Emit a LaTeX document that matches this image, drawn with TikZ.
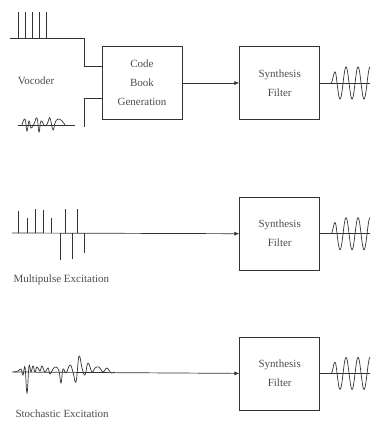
\documentclass[tikz,border=0pt]{standalone}
\usepackage{fontspec}
\setmainfont{Liberation Serif}
\usetikzlibrary{positioning, arrows.meta}

\begin{document}
\begin{tikzpicture}[x=1pt, y=-1pt, color=black!80,
        node distance=57pt and 57pt,
        box/.style={draw, rectangle, minimum width=80pt, minimum height=73pt, align=center, line width=0.7pt, text=black!70, font=\fontsize{11}{19}\selectfont},
        caption/.style={text=black!70, font=\fontsize{11}{13}\selectfont},
        signal/.style={line width=0.7pt},
        arrow/.style={-{Latex[length=5pt, width=4pt]}, line width=0.7pt}
    ]
    \useasboundingbox (0,0) rectangle (370,423);

    % --- TOP: Vocoder ---
    \node[box] (cb) at (142,83) {Code\\Book\\Generation};
    \node[box, right=57pt of cb] (sf1) {Synthesis\\Filter};
    \node[caption] (voc) at (36,81) {Vocoder};
    \coordinate (vstart) at (10,38);
    \coordinate (vjoin) at (84,38);
    \coordinate (nend) at (84,127);
    \foreach \x in {18,25,32,39,46}
        \draw[signal] (\x,12) -- (\x,38);
    \draw[signal] (vstart) -- (vjoin) |- ([yshift=17pt]cb.west);
    \draw[signal] ([yshift=-15pt]cb.west) -| (nend);
    \draw[signal] (18,125) -- (75,125);
    \draw[signal] plot[smooth, tension=0.8] coordinates {(22,125) (25,119) (27,131) (29,121) (31,128) (34,124) (37,118) (39,132) (41,121) (45,126) (48,122) (50,118) (53,130) (55,123) (58,119) (62,121) (65,125)};
    \draw[arrow] (cb) -- (sf1);

    % --- MIDDLE: Multipulse ---
    \node[box, below=77pt of sf1] (sf2) {Synthesis\\Filter};
    \node[caption, anchor=west] (mp) at (10,280) {Multipulse Excitation};
    \coordinate (mstart) at (12,233);
    \draw[arrow] (mstart) -- (sf2.west);
    \foreach \x/\y in {18/211, 27/218, 35/209, 43/210, 51/218, 65/209, 77/209, 60/260, 72/259, 84/253}
        \draw[signal] (\x,233) -- (\x,\y);

    % --- BOTTOM: Stochastic ---
    \node[box, below=66pt of sf2] (sf3) {Synthesis\\Filter};
    \node[caption, anchor=west] (st) at (12,414) {Stochastic Excitation};
    \coordinate (sstart) at (12,372);
    \draw[arrow] (sstart) -- (sf3.west);
    \draw[signal] plot[smooth, tension=0.7] coordinates {(14,372) (18,371) (21,369) (23,375) (25,367) (27,393) (29,366) (31,372) (33,366) (35,372) (37,367) (40,371) (42,366) (45,372) (48,368) (50,374) (53,369) (56,367) (59,371) (61,383) (63,369) (66,373) (70,365) (73,372) (76,382) (79,356) (82,368) (85,375) (88,363) (92,372) (95,368) (99,367) (103,372) (107,368) (111,373) (115,372)};

    % --- outputs ---
    \foreach \f in {sf1, sf2, sf3} {
        \draw[signal] (\f.east) -- ++(50,0);
        \draw[signal, shift={(\f.east)}] plot[domain=11:50, samples=120, smooth] (\x, {-16*min(1,(\x-11)/5)*sin((\x-11)*30)});
    }
\end{tikzpicture}
\end{document}
